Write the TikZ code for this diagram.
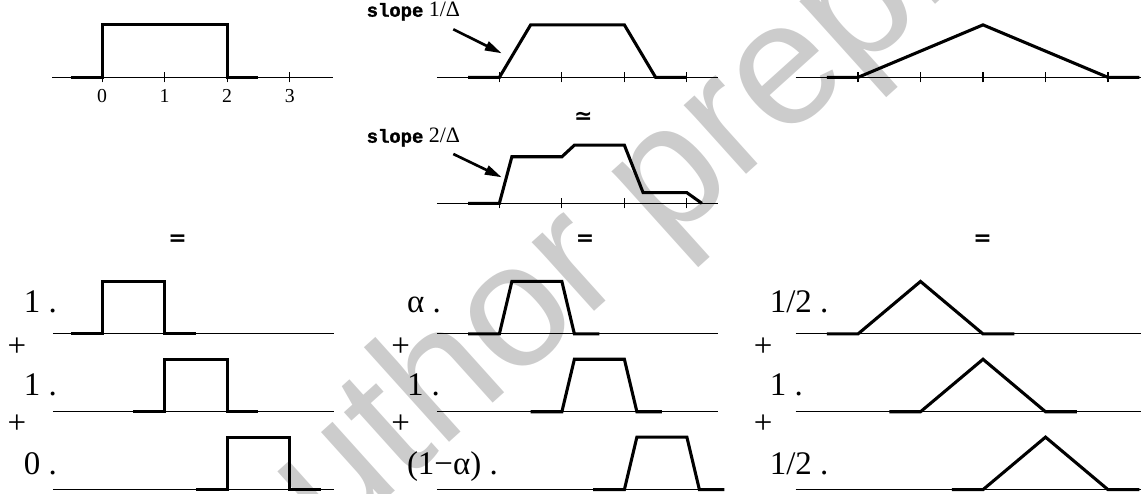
\documentclass[tikz,border=0pt]{standalone}
\usepackage{fontspec}
\setmainfont{Liberation Serif}
\newfontfamily\ttb{Liberation Mono}[BoldFeatures={FakeBold=1.5}]
\newfontfamily\wmfont{Liberation Sans}
\newfontfamily\eqfont{DejaVu Sans}
\usepackage{tikz}
\usetikzlibrary{arrows.meta}
\usepackage{xcolor}
\definecolor{wmgray}{RGB}{204,204,204}
\newcommand{\tword}[1]{{\ttb\bfseries\fontsize{8.6}{9}\selectfont #1}}

\begin{document}
\begin{tikzpicture}[
  axis/.style={line width=0.5pt},
  curve/.style={line width=1.4pt},
  pointer/.style={line width=1.2pt,-{Triangle[length=0.27cm,width=0.15cm]}},
  num/.style={inner sep=0pt,anchor=base,font=\fontsize{9}{9}\selectfont},
  coef/.style={inner sep=0pt,anchor=base west,font=\fontsize{15}{15}\selectfont},
  plus/.style={inner sep=0pt,font=\fontsize{15}{15}\selectfont},
  eqsign/.style={inner sep=0pt,font=\eqfont\bfseries\fontsize{10}{10}\selectfont},
  slopelbl/.style={inner sep=0pt,anchor=base west,font=\fontsize{10}{10}\selectfont}]
  \useasboundingbox (0,0) rectangle (18.256,7.888);

  % watermark
  \node[wmgray, rotate=42, inner sep=0pt, font=\wmfont\fontsize{80}{80}\selectfont] (wm) at (10.45,4.72) {author preprint};

  % box function
  \begin{scope}[shift={(1.635,6.65)}]
    \draw[axis] (-0.8,0) -- (3.7,0);
    \draw[axis] (0,-0.08) -- (0,0.08);
    \draw[axis] (1,-0.08) -- (1,0.08);
    \draw[axis] (2,-0.08) -- (2,0.08);
    \draw[axis] (3,-0.08) -- (3,0.08);
    \node[num] (t0) at (0,-0.4) {0};
    \node[num] (t1) at (1,-0.4) {1};
    \node[num] (t2) at (2,-0.4) {2};
    \node[num] (t3) at (3,-0.4) {3};
    \draw[curve] (-0.5,0) -- (0,0) -- (0,0.84) -- (2,0.84) -- (2,0) -- (2.5,0);
  \end{scope}

  % trapezoid, slope 1/Delta
  \begin{scope}[shift={(7.99,6.65)}]
    \draw[axis] (-1,0) -- (3.5,0);
    \draw[axis] (0,-0.08) -- (0,0.08);
    \draw[axis] (1,-0.08) -- (1,0.08);
    \draw[axis] (2,-0.08) -- (2,0.08);
    \draw[axis] (3,-0.08) -- (3,0.08);
    \draw[curve] (-0.5,0) -- (0,0) -- (0.5,0.84) -- (2,0.84) -- (2.5,0) -- (3,0);
  \end{scope}

  % hat function
  \begin{scope}[shift={(13.728,6.65)}]
    \draw[axis] (-1,0) -- (4.6,0);
    \draw[axis] (0,-0.08) -- (0,0.08);
    \draw[axis] (1,-0.08) -- (1,0.08);
    \draw[axis] (2,-0.08) -- (2,0.08);
    \draw[axis] (3,-0.08) -- (3,0.08);
    \draw[axis] (4,-0.08) -- (4,0.08);
    \draw[curve] (-0.5,0) -- (0,0) -- (2,0.84) -- (4,0) -- (4.5,0);
  \end{scope}

  % approximation, slope 2/Delta
  \begin{scope}[shift={(7.99,4.635)}]
    \draw[axis] (-1,0) -- (3.5,0);
    \draw[axis] (0,-0.08) -- (0,0.08);
    \draw[axis] (1,-0.08) -- (1,0.08);
    \draw[axis] (2,-0.08) -- (2,0.08);
    \draw[axis] (3,-0.08) -- (3,0.08);
    \draw[curve] (-0.5,0) -- (0,0) -- (0.2,0.745) -- (1,0.745) -- (1.2,0.93) -- (2,0.93)
      -- (2.3,0.17) -- (3,0.17) -- (3.24,0);
  \end{scope}

  % slope labels
  \node[slopelbl] (sl1) at (5.86,7.621) {\tword{slope} 1/Δ};
  \node[slopelbl] (sl2) at (5.86,5.605) {\tword{slope} 2/Δ};
  \coordinate (sl1tail) at (7.253,7.419);
  \coordinate (sl1tip) at (8.027,7.035);
  \coordinate (sl2tail) at (7.253,5.424);
  \coordinate (sl2tip) at (8.027,5.051);
  \draw[pointer] (sl1tail) -- (sl1tip);
  \draw[pointer] (sl2tail) -- (sl2tip);
  \node[eqsign] (approx) at (9.333,5.995) {≃};

  % equal signs
  \node[eqsign] (eq1) at (2.843,4.04) {=};
  \node[eqsign] (eq2) at (9.36,4.04) {=};
  \node[eqsign] (eq3) at (15.72,4.04) {=};

  % sum of boxes
  \begin{scope}[xshift=1.635cm]
    \draw[axis] (-0.79,2.545) -- (3.71,2.545);
    \draw[axis] (-0.79,1.3) -- (3.71,1.3);
    \draw[axis] (-0.79,0.054) -- (3.71,0.054);
    \draw[curve] (-0.5,2.545) -- (0,2.545) -- (0,3.385) -- (1,3.385) -- (1,2.545) -- (1.5,2.545);
    \draw[curve] (0.5,1.3) -- (1,1.3) -- (1,2.14) -- (2,2.14) -- (2,1.3) -- (2.5,1.3);
    \draw[curve] (1.5,0.054) -- (2,0.054) -- (2,0.894) -- (3,0.894) -- (3,0.054) -- (3.5,0.054);
  \end{scope}
  \node[coef] (cl1) at (0.375,2.896) {1 .};
  \node[coef] (cl2) at (0.375,1.568) {1 .};
  \node[coef] (cl3) at (0.375,0.29) {0 .};
  \node[plus] (pl1) at (0.272,2.341) {+};
  \node[plus] (pl2) at (0.272,1.104) {+};

  % sum of trapezoids
  \begin{scope}[xshift=7.99cm]
    \draw[axis] (-1,2.545) -- (3.5,2.545);
    \draw[axis] (-1,1.3) -- (3.5,1.3);
    \draw[axis] (-1,0.054) -- (3.5,0.054);
    \draw[curve] (-0.5,2.545) -- (0,2.545) -- (0.2,3.385) -- (1,3.385) -- (1.2,2.545) -- (1.6,2.545);
    \draw[curve] (0.5,1.3) -- (1,1.3) -- (1.2,2.14) -- (2,2.14) -- (2.2,1.3) -- (2.6,1.3);
    \draw[curve] (1.5,0.054) -- (2,0.054) -- (2.2,0.894) -- (3,0.894) -- (3.2,0.054) -- (3.6,0.054);
  \end{scope}
  \node[coef] (cm1) at (6.505,2.896) {α .};
  \node[coef] (cm2) at (6.505,1.568) {1 .};
  \node[coef] (cm3) at (6.505,0.29) {(1−α) .};
  \node[plus] (pm1) at (6.41,2.341) {+};
  \node[plus] (pm2) at (6.41,1.104) {+};

  % sum of hats
  \begin{scope}[xshift=13.728cm]
    \draw[axis] (-1,2.545) -- (4.6,2.545);
    \draw[axis] (-1,1.3) -- (4.6,1.3);
    \draw[axis] (-1,0.054) -- (4.6,0.054);
    \draw[curve] (-0.5,2.545) -- (0,2.545) -- (1,3.385) -- (2,2.545) -- (2.5,2.545);
    \draw[curve] (0.5,1.3) -- (1,1.3) -- (2,2.14) -- (3,1.3) -- (3.5,1.3);
    \draw[curve] (1.5,0.054) -- (2,0.054) -- (3,0.894) -- (4,0.054) -- (4.5,0.054);
  \end{scope}
  \node[coef] (cr1) at (12.31,2.896) {1/2 .};
  \node[coef] (cr2) at (12.31,1.568) {1 .};
  \node[coef] (cr3) at (12.31,0.29) {1/2 .};
  \node[plus] (pr1) at (12.21,2.341) {+};
  \node[plus] (pr2) at (12.21,1.104) {+};
\end{tikzpicture}
\end{document}
